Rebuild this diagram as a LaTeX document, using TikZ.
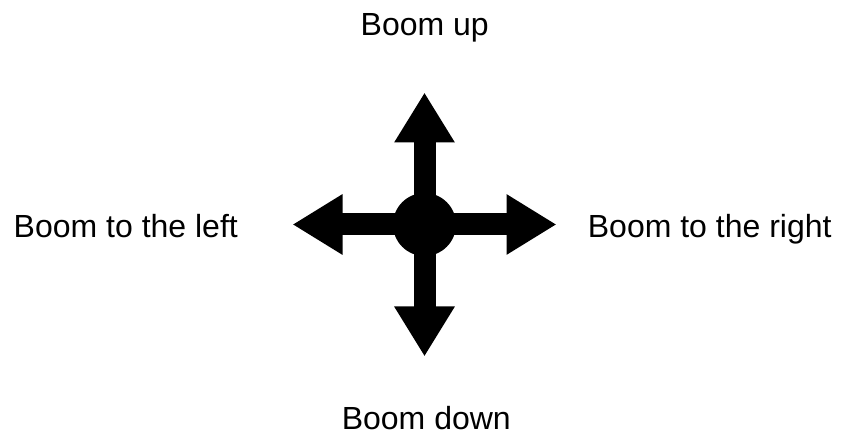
\documentclass[tikz,border=0pt]{standalone}
\usepackage{fontspec}
\setmainfont{Liberation Sans}
\usepackage{tikz}
\usetikzlibrary{arrows.meta}

\begin{document}
\begin{tikzpicture}[x=1pt,y=1pt,
    boomlabel/.style={anchor=base,inner sep=0pt,font=\fontsize{32}{38}\selectfont},
    boomarrow/.style={draw,line width=22pt,-{Triangle[length=50pt,width=57pt]}}]

  \useasboundingbox (0,0) rectangle (851,435);

  \node [circle,fill=black,minimum size=63pt,inner sep=0pt] (hub) at (424.5,210.5) {};

  \coordinate (upTip)    at (424.5,342.5);
  \coordinate (downTip)  at (424.5,78.5);
  \coordinate (leftTip)  at (292.5,210.5);
  \coordinate (rightTip) at (556.5,210.5);

  \path
    (hub.center) edge [boomarrow] (upTip)
    (hub.center) edge [boomarrow] (downTip)
    (hub.center) edge [boomarrow] (leftTip)
    (hub.center) edge [boomarrow] (rightTip);

  \node [boomlabel] (upLab)    at (424.7,399.3) {Boom up};
  \node [boomlabel] (downLab)  at (426.3,5)     {Boom down};
  \node [boomlabel] (leftLab)  at (125.8,197.7) {Boom to the left};
  \node [boomlabel] (rightLab) at (709.7,197.7) {Boom to the right};

\end{tikzpicture}
\end{document}
